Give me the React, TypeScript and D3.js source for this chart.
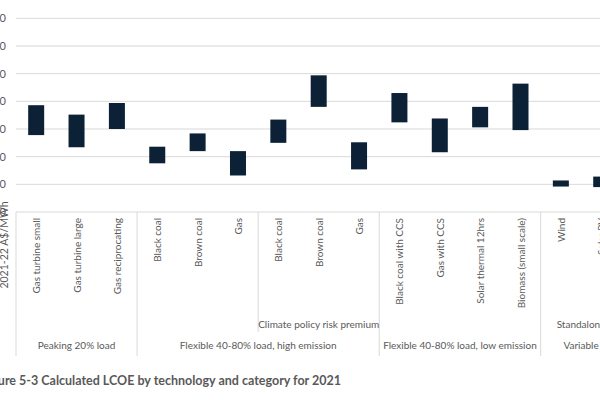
import * as d3 from "d3";

// LCOE ranges, 2021-22 A$/MWh (low / high end of each bar)
const technologies = [
  "Gas turbine small",
  "Gas turbine large",
  "Gas reciprocating",
  "Black coal",
  "Brown coal",
  "Gas",
  "Black coal",
  "Brown coal",
  "Gas",
  "Black coal with CCS",
  "Gas with CCS",
  "Solar thermal 12hrs",
  "Biomass (small scale)",
  "Wind",
  "Solar PV",
];
const lowValues = [139, 117, 150, 88, 110, 66, 125, 190, 77, 162, 108, 153, 148, 46, 45];
const highValues = [193, 176, 197, 118, 142, 110, 167, 247, 126, 215, 169, 190, 232, 57, 64];

const subgroupLabels = [
  "", "", "",
  "", "", "",
  "Climate policy risk premium", "Climate policy risk premium", "Climate policy risk premium",
  "", "", "", "",
  "Standalone", "Standalone",
];
const groupLabels = [
  "Peaking 20% load", "Peaking 20% load", "Peaking 20% load",
  "Flexible 40-80% load, high emission", "Flexible 40-80% load, high emission",
  "Flexible 40-80% load, high emission", "Flexible 40-80% load, high emission",
  "Flexible 40-80% load, high emission", "Flexible 40-80% load, high emission",
  "Flexible 40-80% load, low emission", "Flexible 40-80% load, low emission",
  "Flexible 40-80% load, low emission", "Flexible 40-80% load, low emission",
  "Variable", "Variable",
];
const yTicks = [0, 50, 100, 150, 200, 250, 300, 350];
const title = "Figure 5-3 Calculated LCOE by technology and category for 2021";
const yTitle = "2021-22 A$/MWh";

const width = 600;
const height = 400;
const left = 16;
const step = 40.36;
const barWidth = 16;
const axisY = 212;
const font = "Lato, Carlito, Calibri, sans-serif";
const textColor = "#595959";
const lineColor = "#d9d9d9";
const labelSize = 10;

// consecutive runs of the same label -> [start, end)
function runs(labels: string[]) {
  const out: { label: string; start: number; end: number }[] = [];
  labels.forEach((l, i) => {
    const last = out[out.length - 1];
    if (last && last.label === l) last.end = i + 1;
    else out.push({ label: l, start: i, end: i + 1 });
  });
  return out;
}

export default function App() {
  const n = technologies.length;
  const x = d3.scaleBand<number>().domain(d3.range(n)).range([left, left + n * step]);
  const y = d3.scaleLinear().domain([0, 350]).range([axisY, 18.33]);
  const edge = (i: number) => left + i * x.step();

  const groups = runs(groupLabels);
  // subgroup runs inside each group
  const subs = groups.flatMap((g) =>
    runs(subgroupLabels.slice(g.start, g.end)).map((s) => ({
      ...s,
      start: s.start + g.start,
      end: s.end + g.start,
    }))
  );
  const groupEdges = Array.from(new Set(groups.flatMap((g) => [g.start, g.end])));
  const subEdges = subs.map((s) => s.start).filter((s) => !groupEdges.includes(s));

  return (
    <div style={{ position: "absolute", left: 0, top: 0, width, height, overflow: "hidden", background: "#fff" }}>
      <svg width={width} height={height} style={{ display: "block", fontFamily: font }}>
        <rect width={width} height={height} fill="#fff" />

        {/* gridlines + y labels */}
        {yTicks.map((t) => (
          <g key={t}>
            <line x1={left} x2={left + n * step} y1={y(t)} y2={y(t)} stroke={lineColor} strokeWidth={1} />
            <text x={6} y={y(t) + 4} textAnchor="end" fontSize={11} fill={textColor}>
              {t}
            </text>
          </g>
        ))}

        <text
          transform={`translate(8,245) rotate(-90)`}
          textAnchor="middle"
          fontSize={10.5}
          fill={textColor}
        >
          {yTitle}
        </text>

        {/* category separators */}
        {groupEdges.map((i) => (
          <line key={"g" + i} x1={edge(i)} x2={edge(i)} y1={axisY} y2={356} stroke={lineColor} />
        ))}
        {subEdges.map((i) => (
          <line key={"s" + i} x1={edge(i)} x2={edge(i)} y1={axisY} y2={332} stroke={lineColor} />
        ))}

        {/* bars */}
        {technologies.map((t, i) => {
          const cx = x(i)! + x.bandwidth() / 2;
          return (
            <rect
              key={i}
              x={cx - barWidth / 2}
              y={y(highValues[i])}
              width={barWidth}
              height={y(lowValues[i]) - y(highValues[i])}
              fill="#0c2036"
            />
          );
        })}

        {/* technology labels */}
        {technologies.map((t, i) => {
          const cx = x(i)! + x.bandwidth() / 2;
          return (
            <text
              key={i}
              transform={`translate(${cx + 4},218) rotate(-90)`}
              textAnchor="end"
              fontSize={labelSize}
              fill={textColor}
            >
              {t}
            </text>
          );
        })}

        {/* subgroup labels */}
        {subs
          .filter((s) => s.label)
          .map((s) => (
            <text
              key={"sl" + s.start}
              x={(edge(s.start) + edge(s.end)) / 2}
              y={328}
              textAnchor="middle"
              fontSize={labelSize}
              fill={textColor}
            >
              {s.label}
            </text>
          ))}

        {/* group labels */}
        {groups.map((g) => (
          <text
            key={"gl" + g.start}
            x={(edge(g.start) + edge(g.end)) / 2}
            y={349}
            textAnchor="middle"
            fontSize={labelSize}
            fill={textColor}
          >
            {g.label}
          </text>
        ))}

        <text x={-19} y={385} fontSize={12.5} fontWeight="bold" fill={textColor}>
          {title}
        </text>
      </svg>
    </div>
  );
}
